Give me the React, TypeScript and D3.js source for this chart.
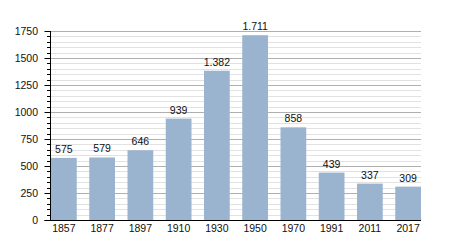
import React from "react";
import * as d3 from "d3";

const years = ["1857", "1877", "1897", "1910", "1930", "1950", "1970", "1991", "2011", "2017"];
const population = [575, 579, 646, 939, 1382, 1711, 858, 439, 337, 309];
const yTicks = [0, 250, 500, 750, 1000, 1250, 1500, 1750];

const W = 450;
const H = 250;
const left = 50.5;
const right = 421;
const top = 31;
const bottom = 220;

export default function App() {
  const x = d3.scaleBand<string>().domain(years).range([left + 0.5, right]).paddingInner(0.327).paddingOuter(0);
  const y = d3.scaleLinear().domain([0, 1750]).range([bottom, top]);
  const minor = d3.range(0, 1751, 50);
  const fmt = (v: number) => (v >= 1000 ? d3.format(",")(v).replace(",", ".") : String(v));
  const font = "'Liberation Sans', Arial, sans-serif";
  return (
    <svg width={W} height={H} style={{ position: "absolute", left: 0, top: 0 }} fontFamily={font}>
      <rect width={W} height={H} fill="#fff" />
      {minor.filter((v) => v % 250 !== 0).map((v) => (
        <line key={"g" + v} x1={left} x2={right} y1={Math.round(y(v)) + 0.5} y2={Math.round(y(v)) + 0.5} stroke="#e2e2e2" strokeWidth={1} />
      ))}
      {yTicks.filter((v) => v > 0).map((v) => (
        <line key={"G" + v} x1={left} x2={right} y1={Math.round(y(v)) + 0.5} y2={Math.round(y(v)) + 0.5} stroke="#b0b0b0" strokeWidth={1} />
      ))}
      {years.map((yr, i) => (
        <g key={yr}>
          <rect x={x(yr)} y={y(population[i])} width={x.bandwidth()} height={bottom - y(population[i])} fill="#9ab3cf" />
          <text x={(x(yr) as number) + x.bandwidth() / 2} y={y(population[i]) - 5} textAnchor="middle" fontSize={10.5} fill="#111">
            {fmt(population[i])}
          </text>
          <text x={(x(yr) as number) + x.bandwidth() / 2} y={bottom + 12} textAnchor="middle" fontSize={10.5} fill="#111">
            {yr}
          </text>
        </g>
      ))}
      {minor.map((v) => (
        <line key={"t" + v} x1={v % 250 === 0 ? left - 6 : left - 3.5} x2={left} y1={Math.round(y(v)) + 0.5} y2={Math.round(y(v)) + 0.5} stroke="#000" strokeWidth={1} />
      ))}
      <line x1={left} x2={left} y1={top} y2={bottom + 0.5} stroke="#000" strokeWidth={1} />
      <line x1={left - 6} x2={right} y1={bottom + 0.5} y2={bottom + 0.5} stroke="#000" strokeWidth={1.2} />
      {yTicks.map((v) => (
        <text key={"l" + v} x={38} y={y(v) + 4.2} textAnchor="end" fontSize={10.5} fill="#111">
          {v}
        </text>
      ))}
    </svg>
  );
}
